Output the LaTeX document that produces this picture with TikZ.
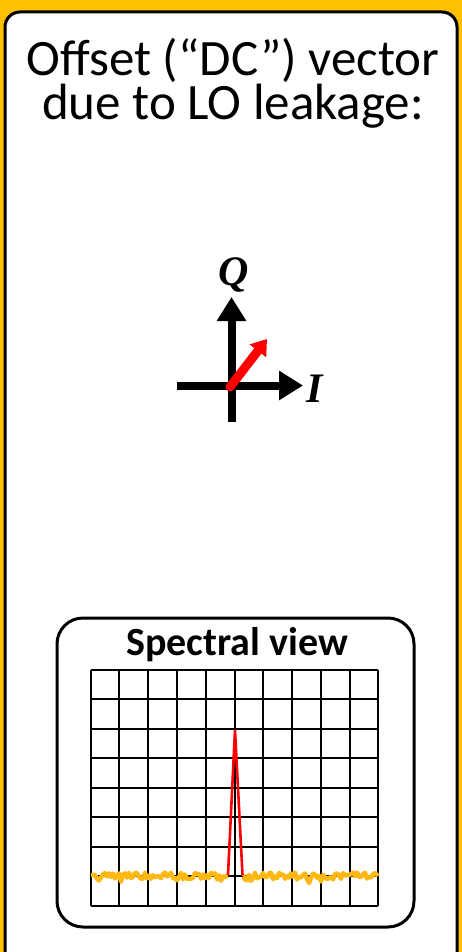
\documentclass[tikz,border=0pt]{standalone}
\usepackage{fontspec}
\setmainfont{Carlito}
\newfontfamily\axfont{Liberation Serif}
\usetikzlibrary{arrows.meta}
\definecolor{gold}{HTML}{FFC000}
\definecolor{noisecol}{HTML}{FDB813}
\tikzset{
  panel/.style={draw=black, line width=3pt, fill=white},
  gridline/.style={draw=black, line width=2pt},
  axis/.style={line width=8pt, -{Triangle[width=28pt,length=24pt]}},
  vec/.style={red, line width=9pt, line cap=round, -{Triangle[width=20pt,length=15pt]}},
  noise/.style={draw=noisecol, line width=4.4pt, line join=round},
  peak/.style={draw=red, line width=2.6pt, line join=miter},
  axlabel/.style={font=\axfont\bfseries\itshape\fontsize{42}{42}\selectfont, inner sep=0pt},
}
\begin{document}
\begin{tikzpicture}[x=1pt, y=-1pt]
\useasboundingbox (0,0) rectangle (462,952);
\clip (0,0) rectangle (462,952);
\fill[gold] (0,0) rectangle (462,952);
\draw[panel, rounded corners=15pt] (5,12) rectangle (457,975);

% title
\node[anchor=base, inner sep=0pt, align=center, font=\fontsize{51}{44}\selectfont] (title) at (233,120) {Offset (“DC”) vector\\due to LO leakage:};

% IQ axes
\coordinate (o) at (231.5,385.5);
\coordinate (ybot) at (231.5,422);
\coordinate (ytop) at (231.5,297);
\coordinate (xl) at (177,385.5);
\coordinate (xr) at (303,385.5);
\draw[axis] (ybot) -- (ytop);
\draw[axis] (xl) -- (xr);
\node[axlabel] (Q) at (234,275) {Q};
\node[axlabel] (I) at (315,389) {I};
\coordinate (vs) at (230,387);
\coordinate (ve) at (267,339);
\draw[vec] (vs) -- (ve);

% spectral view
\draw[panel, rounded corners=26pt] (57,618) rectangle (414,927);
\node[anchor=base, inner sep=0pt, font=\bfseries\fontsize{40}{40}\selectfont] (sv) at (237,655) {Spectral view};
\foreach \i in {0,...,10} {
  \draw[gridline] ({90.7+\i*28.76},670) -- ({90.7+\i*28.76},905.7);
}
\foreach \j in {0,...,8} {
  \draw[gridline] (90.7,{670+\j*29.46}) -- (378.3,{670+\j*29.46});
}
\pgfmathsetseed{11}
\draw[noise] (91,875) \foreach \x in {93,95,...,225} { -- (\x,{876+3.5*rand+ (rand>0.7 ? 6*abs(rand) : 0)}) } -- (228,875);
\draw[noise] (243,875) \foreach \x in {245,247,...,376} { -- (\x,{876+3.5*rand+ (rand>0.7 ? 6*abs(rand) : 0)}) } -- (378,876);
\draw[line width=1.5pt] (228,876.5) -- (243,876.5);
\coordinate (pl) at (228,875);
\coordinate (pt) at (235,730);
\coordinate (pr) at (242.5,875);
\draw[peak] (pl) -- (pt) -- (pr);
\end{tikzpicture}
\end{document}
